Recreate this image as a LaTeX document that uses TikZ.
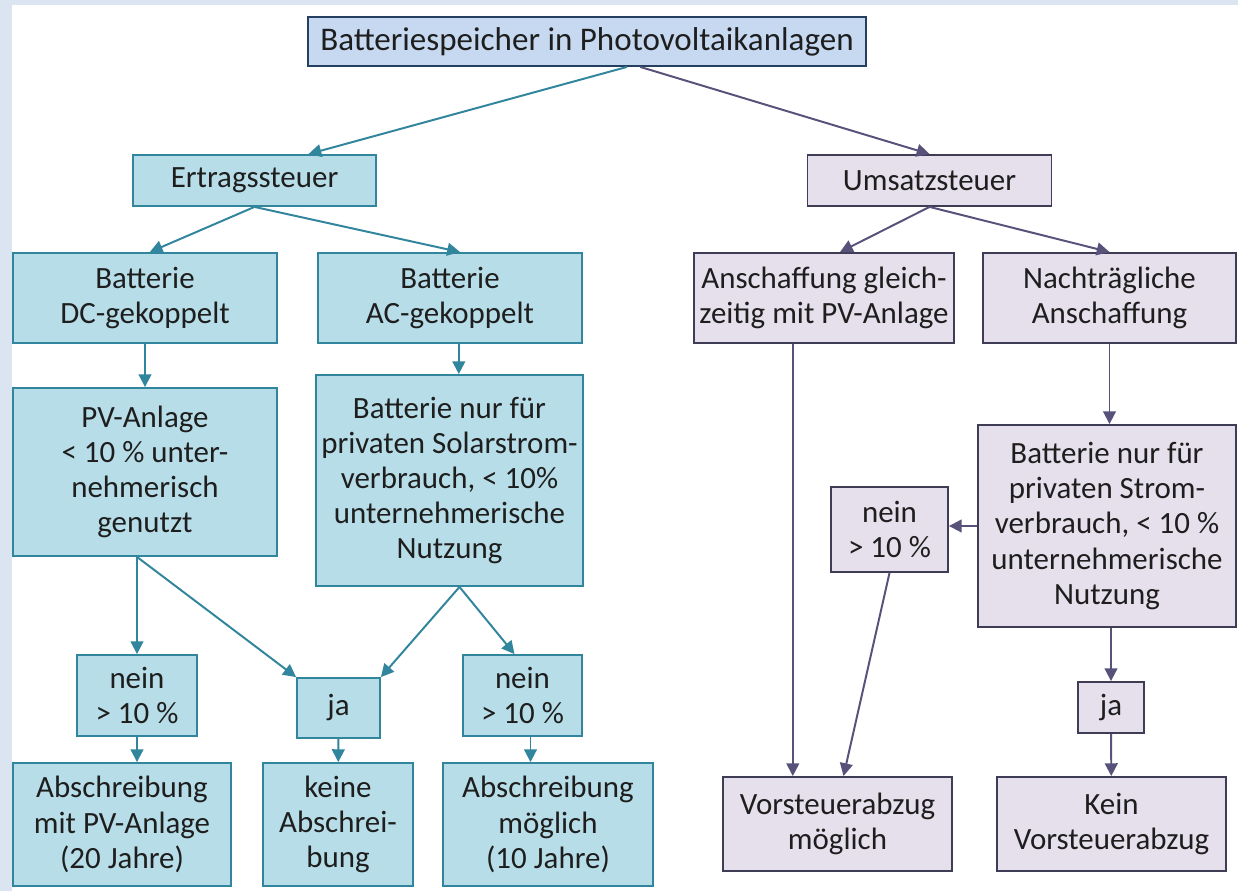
\documentclass[tikz,border=0pt]{standalone}
\usepackage{fontspec}
\setmainfont{Carlito}
\usepackage{tikz}
\usetikzlibrary{arrows.meta,calc}
\definecolor{frame}{HTML}{DBE5F1}
\definecolor{topfill}{HTML}{C6D9F1}
\definecolor{topline}{HTML}{243F60}
\definecolor{tealfill}{HTML}{B7DEE8}
\definecolor{tealline}{HTML}{31859C}
\definecolor{lavfill}{HTML}{E5E0EC}
\definecolor{lavline}{HTML}{3F3D56}
\definecolor{lavarrow}{HTML}{57527A}
\definecolor{ink}{HTML}{1E1E1E}
\tikzset{
  topic/.style={draw=topline,fill=topfill,line width=1.3pt,align=center,
    inner sep=0pt,text=ink,font=\fontsize{23.5}{26}\selectfont},
  income/.style={draw=tealline,fill=tealfill,line width=1.3pt,align=center,
    inner sep=0pt,text=ink,font=\fontsize{22}{25}\selectfont},
  vat/.style={draw=lavline,fill=lavfill,line width=1.3pt,align=center,
    inner sep=0pt,text=ink,font=\fontsize{22}{25}\selectfont},
  arrowin/.style={-{Triangle[length=0.32cm,width=0.32cm]},draw=tealline,line width=1.4pt},
  arrowvat/.style={-{Triangle[length=0.32cm,width=0.32cm]},draw=lavarrow,line width=1.4pt}
}
\begin{document}
\begin{tikzpicture}[x=0.025cm,y=-0.025cm]
  \fill[frame] (0,0) rectangle (1238,891);
  \fill[white] (12,5) rectangle (1238,891);
  \useasboundingbox (0,0) rectangle (1238,891);
  % top level
  \node[topic,minimum width=13.95cm,minimum height=1.225cm] (batt) at (587,41.5) {Batteriespeicher in Photovoltaikanlagen};
  \node[income,minimum width=6.075cm,minimum height=1.275cm] (ertrag) at (254.5,180.5) {Ertragssteuer};
  \node[vat,minimum width=6.1cm,minimum height=1.275cm] (umsatz) at (929.5,180.5) {Umsatzsteuer};
  % Ertragssteuer branch
  \node[income,minimum width=6.6cm,minimum height=2.25cm] (dc) at (145,298) {Batterie\\DC-gekoppelt};
  \node[income,minimum width=6.6cm,minimum height=2.25cm] (ac) at (450,298) {Batterie\\AC-gekoppelt};
  \node[income,minimum width=6.6cm,minimum height=4.2cm] (pv) at (145,472) {PV-Anlage\\< 10 \% unter-\\nehmerisch\\genutzt};
  \node[income,minimum width=6.675cm,minimum height=5.275cm] (solar) at (449.5,480.5) {Batterie nur für\\privaten Solarstrom-\\verbrauch, < 10\%\\unternehmerische\\Nutzung};
  \node[income,minimum width=3cm,minimum height=2.025cm] (neinl) at (137,695.5) {nein\\> 10 \%};
  \node[income,minimum width=2.075cm,minimum height=1.5cm] (jam) at (338.5,708) {ja};
  \node[income,minimum width=2.975cm,minimum height=2.025cm] (neinm) at (522.5,695.5) {nein\\> 10 \%};
  \node[income,minimum width=5.45cm,minimum height=3.075cm] (absl) at (122,824.5) {Abschreibung\\mit PV-Anlage\\(20 Jahre)};
  \node[income,minimum width=3.75cm,minimum height=3.075cm] (keine) at (338,824.5) {keine\\Abschrei-\\bung};
  \node[income,minimum width=5.25cm,minimum height=3.075cm] (absm) at (548,824.5) {Abschreibung\\möglich\\(10 Jahre)};
  % Umsatzsteuer branch
  \node[vat,minimum width=6.5cm,minimum height=2.25cm] (ansch) at (824,298) {Anschaffung gleich-\\zeitig mit PV-Anlage};
  \node[vat,minimum width=6.325cm,minimum height=2.25cm] (nachtr) at (1109.5,298) {Nachträgliche\\Anschaffung};
  \node[vat,minimum width=6.45cm,minimum height=5.05cm] (privat) at (1107,526) {Batterie nur für\\privaten Strom-\\verbrauch, < 10 \%\\unternehmerische\\Nutzung};
  \node[vat,minimum width=2.925cm,minimum height=2.125cm] (neinr) at (889.5,529.5) {nein\\> 10 \%};
  \node[vat,minimum width=1.65cm,minimum height=1.275cm] (jar) at (1111,707.5) {ja};
  \node[vat,minimum width=5.725cm,minimum height=2.35cm] (vorst) at (837.5,824) {Vorsteuerabzug\\möglich};
  \node[vat,minimum width=5.725cm,minimum height=2.35cm] (kein) at (1111.5,824) {Kein\\Vorsteuerabzug};
  % connectors
  \draw[arrowin] ([xshift=1cm]batt.south) -- ([xshift=1.35cm]ertrag.north);
  \draw[arrowvat] ([xshift=1.33cm]batt.south) -- (umsatz.north);
  \draw[arrowin] (ertrag.south) -- ([xshift=0.12cm]dc.north);
  \draw[arrowin] (ertrag.south) -- ([xshift=0.25cm]ac.north);
  \draw[arrowin] (dc) -- (pv);
  \draw[arrowin] ([xshift=0.22cm]ac.south) -- ([xshift=0.22cm]ac.south |- solar.north);
  \draw[arrowin] (pv.south -| neinl) -- (neinl);
  \draw[arrowin] (pv.south -| neinl) -- (jam.north west);
  \draw[arrowin] ([xshift=0.25cm]solar.south) -- (jam.north east);
  \draw[arrowin] ([xshift=0.25cm]solar.south) -- ([xshift=-0.2cm]neinm.north);
  \draw[arrowin] (neinl.south) -- (neinl.south |- absl.north);
  \draw[arrowin] (jam) -- (keine);
  \draw[arrowin] ([xshift=0.2cm]neinm.south) -- ([xshift=0.2cm]neinm.south |- absm.north);
  \draw[arrowvat] (umsatz.south) -- ([xshift=0.4cm]ansch.north);
  \draw[arrowvat] (umsatz.south) -- (nachtr.north);
  \draw[arrowvat] ([xshift=-0.78cm]ansch.south) -- ([xshift=-0.78cm]ansch.south |- vorst.north);
  \draw[arrowvat] (nachtr.south) -- (nachtr.south |- privat.north);
  \draw[arrowvat] (privat.west) -- (privat.west -| neinr.east);
  \draw[arrowvat] (neinr.south) -- ([xshift=0.15cm]vorst.north);
  \draw[arrowvat] (privat.south -| jar) -- (jar);
  \draw[arrowvat] (jar) -- (kein);
\end{tikzpicture}
\end{document}
